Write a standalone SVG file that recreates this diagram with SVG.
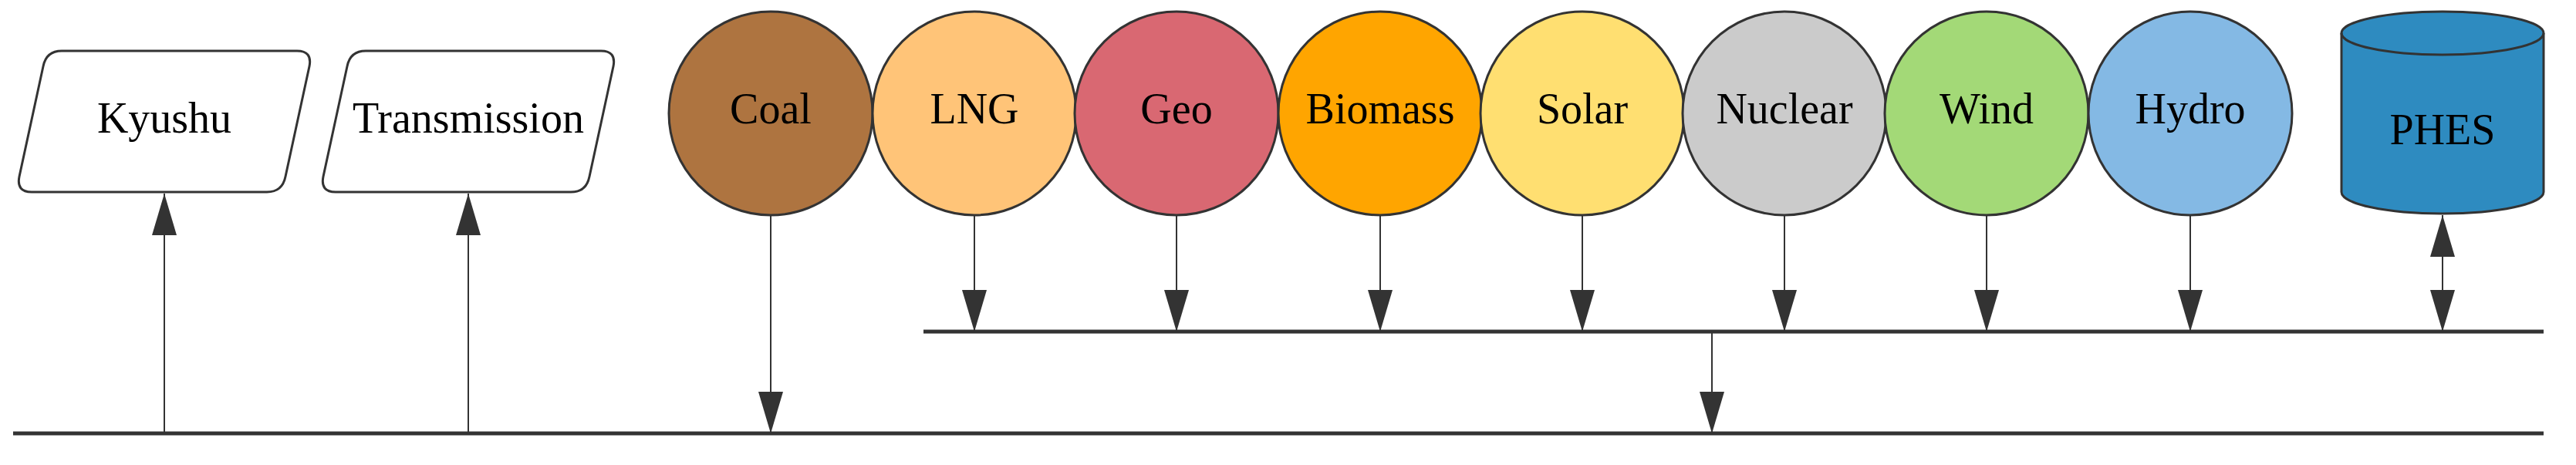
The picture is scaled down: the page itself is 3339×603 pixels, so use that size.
<svg xmlns="http://www.w3.org/2000/svg" width="3339" height="603" viewBox="0 0 3339 603">
<style>
.n{stroke:#333;stroke-width:3}
.t{font-family:"Liberation Serif",serif;font-size:56px;text-anchor:middle;fill:#000}
.c{stroke:#333;stroke-width:2;fill:none}
.b{stroke:#333;stroke-width:5;fill:none}
</style>
<defs>
<marker id="a" viewBox="0 0 54 32" refX="54" refY="16" markerWidth="54" markerHeight="32" markerUnits="userSpaceOnUse" orient="auto-start-reverse"><path d="M0,0 L54,16 L0,32 Z" fill="#333"/></marker>
</defs>
<rect width="3339" height="603" fill="#fff"/>
<g id="kyushu"><path class="n" fill="#fff" d="M80,66 L385,66 Q405,66 401,86 L370,229 Q366,249 346,249 L41,249 Q21,249 25,229 L56,86 Q60,66 80,66 Z"/><text class="t" x="213" y="172">Kyushu</text></g>
<g id="transmission"><path class="n" fill="#fff" d="M474,66 L779,66 Q799,66 795,86 L764,229 Q760,249 740,249 L435,249 Q415,249 419,229 L450,86 Q454,66 474,66 Z"/><text class="t" x="607" y="172">Transmission</text></g>
<g id="coal"><circle class="n" cx="999" cy="147" r="132" fill="#ae7440"/><text class="t" x="999" y="160">Coal</text></g>
<g id="lng"><circle class="n" cx="1263" cy="147" r="132" fill="#ffc478"/><text class="t" x="1263" y="160">LNG</text></g>
<g id="geo"><circle class="n" cx="1525" cy="147" r="132" fill="#d96872"/><text class="t" x="1525" y="160">Geo</text></g>
<g id="biomass"><circle class="n" cx="1789" cy="147" r="132" fill="#ffa500"/><text class="t" x="1789" y="160">Biomass</text></g>
<g id="solar"><circle class="n" cx="2051" cy="147" r="132" fill="#ffdf71"/><text class="t" x="2051" y="160">Solar</text></g>
<g id="nuclear"><circle class="n" cx="2313" cy="147" r="132" fill="#cbcbcb"/><text class="t" x="2313" y="160">Nuclear</text></g>
<g id="wind"><circle class="n" cx="2575" cy="147" r="132" fill="#a3d977"/><text class="t" x="2575" y="160">Wind</text></g>
<g id="hydro"><circle class="n" cx="2839" cy="147" r="132" fill="#84b9e4"/><text class="t" x="2839" y="160">Hydro</text></g>
<g id="phes"><path class="n" fill="#2e8bc0" d="M3035,43 A131,28 0 0 1 3297,43 L3297,249 A131,28 0 0 1 3035,249 Z"/><path class="n" fill="none" d="M3035,43 A131,28 0 0 0 3297,43"/><text class="t" x="3166" y="187">PHES</text></g>
<g id="connectors">
<path class="b" d="M1197,430 H3297"/>
<path class="b" d="M17,562 H3297"/>
<path class="c" marker-end="url(#a)" d="M213,562 V251"/>
<path class="c" marker-end="url(#a)" d="M607,562 V251"/>
<path class="c" marker-end="url(#a)" d="M999,279 V562"/>
<path class="c" marker-end="url(#a)" d="M1263,279 V430"/>
<path class="c" marker-end="url(#a)" d="M1525,279 V430"/>
<path class="c" marker-end="url(#a)" d="M1789,279 V430"/>
<path class="c" marker-end="url(#a)" d="M2051,279 V430"/>
<path class="c" marker-end="url(#a)" d="M2313,279 V430"/>
<path class="c" marker-end="url(#a)" d="M2575,279 V430"/>
<path class="c" marker-end="url(#a)" d="M2839,279 V430"/>
<path class="c" marker-start="url(#a)" marker-end="url(#a)" d="M3166,279 V430"/>
<path class="c" stroke-width="3" marker-end="url(#a)" d="M2219,430 V562"/>
</g>
</svg>
